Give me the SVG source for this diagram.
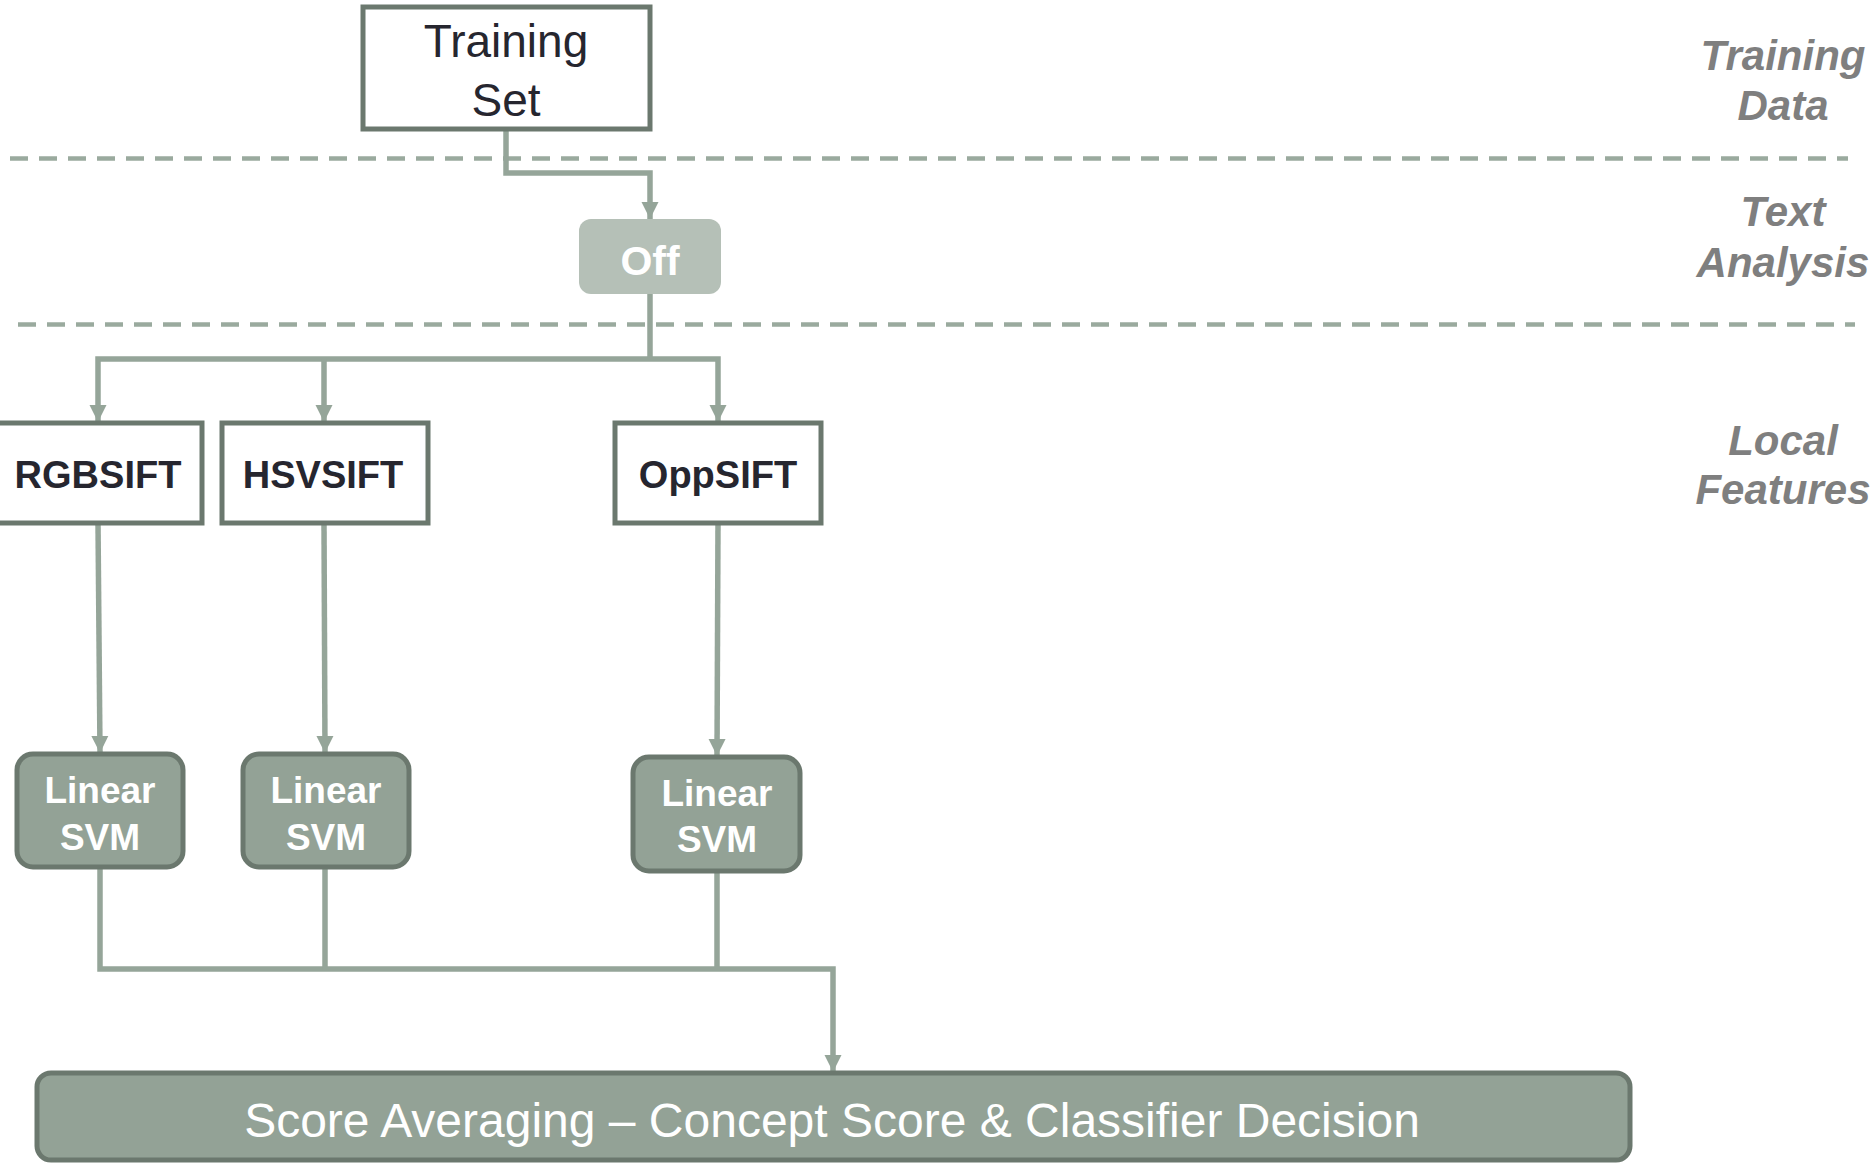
<svg xmlns="http://www.w3.org/2000/svg" width="1876" height="1164" viewBox="0 0 1876 1164">
  <defs>
    <marker id="arrow" markerUnits="userSpaceOnUse" markerWidth="18" markerHeight="18" viewBox="0 0 18 18" refX="17" refY="9" orient="auto">
      <path d="M0,0.5 L17,9 L0,17.5 Z" fill="#95a599"/>
    </marker>
    <style>
      .lane { stroke: #9aaa9e; stroke-width: 4.5; stroke-dasharray: 18 11; fill: none; }
      .lane-label { font-family: "Liberation Sans", Arial, sans-serif; font-size: 42px; font-weight: bold; font-style: italic; fill: #7f7f7f; text-anchor: middle; }
      .box { fill: #ffffff; stroke: #6b786e; stroke-width: 5; }
      .box-text { font-family: "Liberation Sans", Arial, sans-serif; font-size: 38px; font-weight: bold; fill: #26262f; text-anchor: middle; }
      .svm { fill: #93a296; stroke: #6b786e; stroke-width: 5; }
      .svm-text { font-family: "Liberation Sans", Arial, sans-serif; font-size: 37px; font-weight: bold; fill: #ffffff; text-anchor: middle; }
      .wire { fill: none; stroke: #95a599; stroke-width: 5.5; stroke-linejoin: miter; }
      .wire-arrow { fill: none; stroke: #95a599; stroke-width: 5.5; marker-end: url(#arrow); }
    </style>
  </defs>

  <rect width="1876" height="1164" fill="#ffffff"/>

  <!-- lane separators -->
  <g id="lanes">
    <line class="lane" x1="10" y1="158.5" x2="1848" y2="158.5"/>
    <line class="lane" x1="18" y1="324.5" x2="1855" y2="324.5"/>
    <text class="lane-label" x="1783" y="70">Training</text>
    <text class="lane-label" x="1783" y="120">Data</text>
    <text class="lane-label" x="1783" y="226">Text</text>
    <text class="lane-label" x="1783" y="277">Analysis</text>
    <text class="lane-label" x="1783" y="455">Local</text>
    <text class="lane-label" x="1783" y="504">Features</text>
  </g>

  <!-- connectors -->
  <g id="connectors">
    <path class="wire-arrow" d="M506,129 V173 H650 V219"/>
    <path class="wire" d="M650,294 V359"/>
    <path class="wire-arrow" d="M650,359 H98 V422"/>
    <path class="wire-arrow" d="M324,359 V422"/>
    <path class="wire-arrow" d="M650,359 H718 V422"/>
    <path class="wire-arrow" d="M98,523 L100,753"/>
    <path class="wire-arrow" d="M324,523 L325,753"/>
    <path class="wire-arrow" d="M718,523 L717,756"/>
    <path class="wire" d="M100,868 V969 H325"/>
    <path class="wire" d="M325,868 V969"/>
    <path class="wire" d="M717,871 V969"/>
    <path class="wire-arrow" d="M325,969 H833 V1072"/>
  </g>

  <g id="training-set">
    <rect class="box" x="363" y="7" width="287" height="122"/>
    <text x="506" y="57" font-family="'Liberation Sans', Arial, sans-serif" font-size="46" fill="#26262f" text-anchor="middle">Training</text>
    <text x="506" y="116" font-family="'Liberation Sans', Arial, sans-serif" font-size="46" fill="#26262f" text-anchor="middle">Set</text>
  </g>

  <g id="off">
    <rect x="579" y="219" width="142" height="75" rx="12" fill="#b5c0b7"/>
    <text x="650" y="275" font-family="'Liberation Sans', Arial, sans-serif" font-size="41" font-weight="bold" fill="#ffffff" text-anchor="middle">Off</text>
  </g>

  <g id="rgbsift">
    <rect class="box" x="-4" y="423" width="206" height="100"/>
    <text class="box-text" x="98" y="488">RGBSIFT</text>
  </g>

  <g id="hsvsift">
    <rect class="box" x="222" y="423" width="206" height="100"/>
    <text class="box-text" x="323" y="488">HSVSIFT</text>
  </g>

  <g id="oppsift">
    <rect class="box" x="615" y="423" width="206" height="100"/>
    <text class="box-text" x="718" y="488">OppSIFT</text>
  </g>

  <g id="svm-rgb">
    <rect class="svm" x="17" y="754" width="166" height="113" rx="16"/>
    <text class="svm-text" x="100" y="803">Linear</text>
    <text class="svm-text" x="100" y="850">SVM</text>
  </g>

  <g id="svm-hsv">
    <rect class="svm" x="243" y="754" width="166" height="113" rx="16"/>
    <text class="svm-text" x="326" y="803">Linear</text>
    <text class="svm-text" x="326" y="850">SVM</text>
  </g>

  <g id="svm-opp">
    <rect class="svm" x="633" y="757" width="167" height="114" rx="16"/>
    <text class="svm-text" x="717" y="806">Linear</text>
    <text class="svm-text" x="717" y="852">SVM</text>
  </g>

  <g id="score-averaging">
    <rect class="svm" x="37" y="1073" width="1593" height="87" rx="14"/>
    <text x="832" y="1137" font-family="'Liberation Sans', Arial, sans-serif" font-size="48" fill="#ffffff" text-anchor="middle">Score Averaging – Concept Score &amp; Classifier Decision</text>
  </g>
</svg>
